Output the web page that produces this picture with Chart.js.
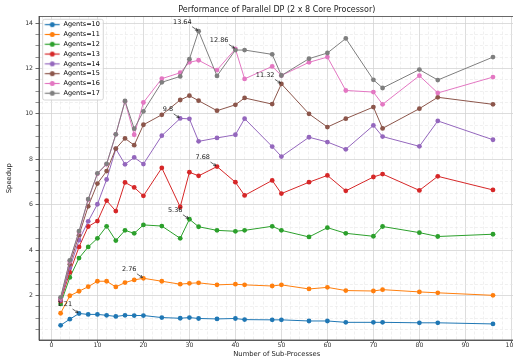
<!DOCTYPE html>
<html>
<head>
<meta charset="utf-8">
<script src="https://cdn.jsdelivr.net/npm/chart.js@4.4.1/dist/chart.umd.min.js"></script>
<style>
  html, body { margin: 0; padding: 0; background: #fff; overflow: hidden; }
  #wrap { width: 513px; height: 363px; overflow: hidden; }
</style>
</head>
<body>
<div id="wrap"><canvas id="speedup" width="540" height="363"></canvas></div>
<script>
// number of sub-processes (x)
const processes = [2, 4, 6, 8, 10, 12, 14, 16, 18, 20, 24, 28, 30, 32, 36, 40, 42, 48, 50, 56, 60, 64, 70, 72, 80, 84, 96];

// speedup per agent count
const agents10 = [0.69, 0.96, 1.21, 1.17, 1.17, 1.13, 1.08, 1.13, 1.12, 1.12, 1.03, 1.00, 1.03, 0.99, 0.97, 0.99, 0.94, 0.93, 0.93, 0.88, 0.88, 0.82, 0.82, 0.82, 0.80, 0.80, 0.75];
const agents11 = [1.22, 1.99, 2.19, 2.39, 2.63, 2.63, 2.38, 2.57, 2.69, 2.76, 2.63, 2.50, 2.54, 2.56, 2.47, 2.50, 2.47, 2.42, 2.47, 2.29, 2.36, 2.22, 2.20, 2.26, 2.16, 2.12, 2.01];
const agents12 = [1.63, 2.80, 3.65, 4.14, 4.52, 5.05, 4.42, 4.87, 4.74, 5.11, 5.06, 4.52, 5.36, 5.03, 4.87, 4.83, 4.87, 5.05, 4.87, 4.58, 4.99, 4.74, 4.61, 5.04, 4.77, 4.60, 4.70];
const agents13 = [1.75, 3.02, 4.14, 5.04, 5.28, 6.18, 5.72, 6.98, 6.76, 6.39, 7.62, 5.90, 7.43, 7.27, 7.68, 6.99, 6.41, 7.07, 6.49, 6.99, 7.29, 6.61, 7.22, 7.35, 6.63, 7.25, 6.65];
const agents14 = [1.80, 3.22, 4.44, 5.27, 6.02, 7.11, 8.46, 7.78, 8.08, 7.79, 9.04, 9.80, 9.78, 8.79, 8.94, 9.08, 9.79, 8.56, 8.12, 8.97, 8.76, 8.44, 9.49, 9.00, 8.57, 9.69, 8.86];
const agents15 = [1.85, 3.38, 4.66, 5.93, 6.93, 7.48, 8.47, 8.92, 8.62, 9.52, 9.96, 10.61, 10.80, 10.58, 10.14, 10.40, 10.70, 10.43, 11.32, 10.00, 9.42, 9.79, 10.30, 9.36, 10.23, 10.73, 10.42];
const agents16 = [1.87, 3.50, 4.80, 6.22, 7.36, 7.78, 9.10, 10.55, 9.08, 10.50, 11.55, 11.81, 12.27, 12.36, 11.93, 12.86, 11.54, 12.09, 11.69, 12.27, 12.50, 11.03, 10.96, 10.42, 11.68, 10.92, 11.62];
const agents17 = [1.92, 3.55, 4.84, 6.25, 7.38, 7.80, 9.10, 10.57, 9.35, 10.11, 11.39, 11.65, 12.41, 13.64, 11.67, 12.81, 12.81, 12.62, 11.69, 12.43, 12.68, 13.32, 11.50, 11.14, 11.95, 11.49, 12.50];

const seriesNames = ['Agents=10', 'Agents=11', 'Agents=12', 'Agents=13', 'Agents=14', 'Agents=15', 'Agents=16', 'Agents=17'];
const seriesValues = [agents10, agents11, agents12, agents13, agents14, agents15, agents16, agents17];
const seriesColors = ['#1f77b4', '#ff7f0e', '#2ca02c', '#d62728', '#9467bd', '#8c564b', '#e377c2', '#7f7f7f'];

Chart.defaults.font.family = '"DejaVu Sans", sans-serif';
Chart.defaults.color = '#333';

const isMajorX = v => Math.abs(v % 10) < 1e-6;
const isMajorY = v => Math.abs(v % 2) < 1e-6;

// small line+marker icons for the legend
const legendIcons = seriesColors.map(c => {
    const cv = document.createElement('canvas');
    cv.width = 18;
    cv.height = 7;
    const g = cv.getContext('2d');
    g.strokeStyle = c;
    g.lineWidth = 1.2;
    g.beginPath();
    g.moveTo(2.5, 3.5);
    g.lineTo(17.5, 3.5);
    g.stroke();
    g.fillStyle = c;
    g.beginPath();
    g.arc(10, 3.5, 2.5, 0, Math.PI * 2);
    g.fill();
    return cv;
});

// arrows with the peak value of each series
const peakLabels = {
    id: 'peakLabels',
    afterDatasetsDraw(chart) {
        const ctx = chart.ctx;
        ctx.save();
        ctx.font = '6.5px "DejaVu Sans"';
        ctx.fillStyle = '#222';
        ctx.strokeStyle = '#222';
        ctx.lineWidth = 0.7;
        ctx.textAlign = 'right';
        ctx.textBaseline = 'middle';
        seriesValues.forEach((vals, i) => {
            const top = Math.max(...vals);
            const idx = vals.indexOf(top);
            const pt = chart.getDatasetMeta(i).data[idx];
            ctx.fillText(String(top), pt.x - 7, pt.y - 9);
            const x0 = pt.x - 6.5, y0 = pt.y - 4.5, x1 = pt.x - 1, y1 = pt.y - 0.8;
            ctx.beginPath();
            ctx.moveTo(x0, y0);
            ctx.lineTo(x1, y1);
            ctx.stroke();
            const a = Math.atan2(y1 - y0, x1 - x0);
            ctx.beginPath();
            ctx.moveTo(x1 - 2.8 * Math.cos(a - 0.5), y1 - 2.8 * Math.sin(a - 0.5));
            ctx.lineTo(x1, y1);
            ctx.lineTo(x1 - 2.8 * Math.cos(a + 0.5), y1 - 2.8 * Math.sin(a + 0.5));
            ctx.stroke();
        });
        ctx.restore();
    }
};

// legend inside the plot with a frame, plus the top spine
const frame = {
    id: 'frame',
    afterLayout(chart) {
        const leg = chart.legend;
        leg.top = chart.chartArea.top + 1.6;
        leg.bottom = leg.top + leg.height;
        if (!leg._realDraw) {
            leg._realDraw = leg.draw.bind(leg);
            leg.draw = function () {};
        }
    },
    afterDraw(chart) {
        const ctx = chart.ctx;
        const a = chart.chartArea;
        ctx.save();
        ctx.strokeStyle = '#444';
        ctx.lineWidth = 0.8;
        ctx.strokeRect(a.left, a.top, a.right - a.left, a.bottom - a.top);
        const lx = a.left + 3.7, ly = a.top + 2.8, lw = 60.6, lh = 80.7;
        ctx.beginPath();
        ctx.roundRect(lx, ly, lw, lh, 2);
        ctx.fillStyle = 'rgba(255,255,255,0.8)';
        ctx.fill();
        ctx.strokeStyle = '#cccccc';
        ctx.lineWidth = 0.8;
        ctx.stroke();
        ctx.restore();
        chart.legend._realDraw();
    }
};

const ctx = document.getElementById('speedup').getContext('2d');

new Chart(ctx, {
    type: 'line',
    data: {
        datasets: seriesNames.map((name, i) => ({
            label: name,
            data: processes.map((p, j) => ({ x: p, y: seriesValues[i][j] })),
            borderColor: seriesColors[i],
            backgroundColor: seriesColors[i],
            borderWidth: 1,
            pointRadius: 2.4,
            pointBorderWidth: 0,
            pointHoverRadius: 2.4,
            tension: 0,
            order: seriesNames.length - 1 - i
        }))
    },
    options: {
        responsive: false,
        animation: false,
        events: [],
        layout: { padding: { left: 0, right: 25.4, top: 0, bottom: 0 } },
        plugins: {
            title: {
                display: true,
                fullSize: false,
                text: 'Performance of Parallel DP (2 x 8 Core Processor)',
                color: '#222',
                font: { size: 8, weight: 'normal' },
                padding: { top: 5.5, bottom: 1.4 }
            },
            legend: {
                position: 'chartArea',
                align: 'start',
                labels: {
                    usePointStyle: true,
                    pointStyleWidth: 18,
                    padding: 3.3,
                    textAlign: 'left',
                    color: '#333',
                    font: { size: 6.5 },
                    generateLabels: chart => chart.data.datasets.map((ds, i) => ({
                        text: ds.label,
                        pointStyle: legendIcons[i],
                        fillStyle: ds.borderColor,
                        strokeStyle: ds.borderColor,
                        lineWidth: 0,
                        hidden: false,
                        datasetIndex: i
                    }))
                }
            },
            tooltip: { enabled: false }
        },
        scales: {
            x: {
                type: 'linear',
                min: -2.7,
                max: 100.7,
                afterFit: s => { s.height = 23; },
                title: {
                    display: true,
                    text: 'Number of Sub-Processes',
                    color: '#222',
                    font: { size: 6.8 },
                    padding: { top: 0, bottom: 5 }
                },
                ticks: {
                    stepSize: 2,
                    autoSkip: false,
                    maxRotation: 0,
                    includeBounds: false,
                    padding: -1,
                    font: { size: 6.2 },
                    callback: v => isMajorX(v) ? String(v) : ''
                },
                grid: {
                    color: c => c.tick && isMajorX(c.tick.value) ? '#d4d4d4' : '#e6e6e6',
                    lineWidth: c => c.tick && isMajorX(c.tick.value) ? 0.8 : 0.6,
                    tickLength: 3,
                    tickColor: c => c.tick && isMajorX(c.tick.value) ? '#444' : 'rgba(0,0,0,0)',
                    tickWidth: 0.8
                },
                border: {
                    color: '#444',
                    width: 0.8,
                    dash: c => c.tick && !isMajorX(c.tick.value) ? [3, 2] : []
                }
            },
            y: {
                min: 0.0425,
                max: 14.2875,
                afterFit: s => { s.width = 39; },
                title: {
                    display: true,
                    text: 'Speedup',
                    color: '#222',
                    font: { size: 6.8 },
                    padding: { top: 5, bottom: 0 }
                },
                ticks: {
                    stepSize: 0.5,
                    autoSkip: false,
                    includeBounds: false,
                    padding: 2.5,
                    font: { size: 6.2 },
                    callback: v => isMajorY(v) ? String(v) : ''
                },
                grid: {
                    color: c => c.tick && isMajorY(c.tick.value) ? '#d4d4d4' : '#e6e6e6',
                    lineWidth: c => c.tick && isMajorY(c.tick.value) ? 0.8 : 0.6,
                    tickLength: 3.5,
                    tickColor: '#444',
                    tickWidth: c => c.tick && isMajorY(c.tick.value) ? 0.8 : 0.6
                },
                border: {
                    color: '#444',
                    width: 0.8,
                    dash: c => c.tick && !isMajorY(c.tick.value) ? [3, 2] : []
                }
            }
        }
    },
    plugins: [peakLabels, frame]
});
</script>
</body>
</html>
